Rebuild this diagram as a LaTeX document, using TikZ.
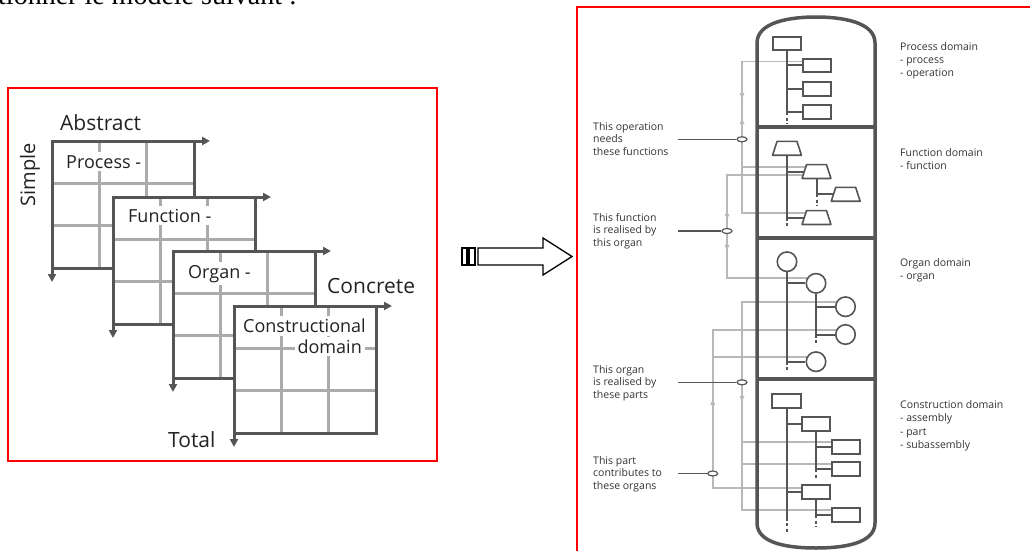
\documentclass[tikz,border=0pt]{standalone}
\usepackage{fontspec}
\setmainfont{Open Sans}
\newfontfamily\serifz{Liberation Serif}
\usetikzlibrary{arrows.meta,shapes.geometric,calc}
\pgfdeclarelayer{bg}
\pgfsetlayers{bg,main}
\definecolor{dk}{HTML}{555555}
\definecolor{gl}{HTML}{ABABAB}
\definecolor{cg}{HTML}{B8B8B8}
\definecolor{txt}{HTML}{222222}
\definecolor{ltxt}{HTML}{333333}
\newcommand\domgrid[2]{%
  \begin{scope}[shift={(#1,#2)}]
    \fill[white] (0,0) rectangle (142,127);
    \draw[gridl] (47.3,0) -- (47.3,127) (94.7,0) -- (94.7,127)
                 (0,42.3) -- (142,42.3) (0,84.7) -- (142,84.7);
    \draw[frame] (0,0) rectangle (142,127);
    \draw[frame,-{Triangle[length=8pt,width=8pt]}] (0,0) -- (158,0);
    \draw[frame,-{Triangle[length=8pt,width=8pt]}] (0,0) -- (0,141);
  \end{scope}}
% trapezium-shaped function node: name, position
\newcommand\funcnode[2]{%
  \node[trapbox] (#1) at (#2) {};
  \draw[trapline] ([xshift=4.5pt]#1.north west) -- ([xshift=-4.5pt]#1.north east)
     -- (#1.south east) -- (#1.south west) -- cycle;}
\begin{document}
\begin{tikzpicture}[x=1pt,y=-1pt,
  frame/.style={draw=dk,line width=3pt},
  gridl/.style={draw=gl,line width=3pt},
  redframe/.style={draw=red,line width=2pt},
  gridlabel/.style={fill=white,inner sep=3pt,text=txt,font=\fontsize{18}{20}\selectfont},
  axislabel/.style={inner sep=0pt,text=txt,font=\fontsize{21}{24}\selectfont},
  wall/.style={draw=dk,line width=3.5pt},
  box/.style={draw=dk,line width=1.6pt,fill=white,minimum width=28.5pt,minimum height=13.5pt,inner sep=0pt},
  trapbox/.style={rectangle,minimum width=28.5pt,minimum height=13.5pt,inner sep=0pt},
  trapline/.style={draw=dk,line width=1.6pt,fill=white,line join=round},
  organ/.style={circle,draw=dk,line width=1.6pt,fill=white,minimum size=19.5pt,inner sep=0pt},
  tree/.style={draw=dk,line width=2pt},
  tail/.style={draw=dk,line width=2pt,dash pattern=on 3pt off 2.5pt},
  conn/.style={draw=cg,line width=1.8pt},
  link/.style={ellipse,draw=dk,line width=1.2pt,fill=white,minimum width=10pt,minimum height=5pt,inner sep=0pt},
  lead/.style={draw=dk,line width=1.3pt},
  lbl/.style={anchor=west,align=left,inner sep=0pt,text=ltxt,font=\fontsize{10.5}{12.5}\selectfont},
  dom/.style={anchor=north west,align=left,inner sep=0pt,text=ltxt,font=\fontsize{10.5}{13.3}\selectfont},
  adown/.pic={\fill[cg] (-2.5,-4) -- (2.5,-4) -- (0,1.5) -- cycle;},
  aup/.pic={\fill[cg] (-2.5,4) -- (2.5,4) -- (0,-1.5) -- cycle;}
]
\useasboundingbox (0,0) rectangle (1030,551);

% heading fragment
\node[anchor=base west,inner sep=0pt,font=\serifz\fontsize{28}{30}\selectfont] (head) at (-2,5) {tionner le modèle suivant :};

% ---------------- left panel ----------------
\draw[redframe] (8,88) rectangle (437,461);
\domgrid{52}{141}
\node[gridlabel,anchor=base west] (gp) at (63,168) {Process -};
\domgrid{113}{197}
\node[gridlabel,anchor=base west] (gf) at (125,222) {Function -};
\domgrid{173}{251}
\node[gridlabel,anchor=base west] (go) at (185,278) {Organ -};
\domgrid{234}{306}
\node[gridlabel,anchor=base west] (gc1) at (240,332.5) {Constructional};
\node[gridlabel,anchor=base east] (gc2) at (365,353.3) {domain};

\node[axislabel,anchor=base west] (abs) at (60,130) {Abstract};
\node[axislabel,rotate=90,font=\fontsize{20}{22}\selectfont] (simp) at (30,175) {Simple};
\node[axislabel,anchor=base west] (conc) at (327,293) {Concrete};
\node[axislabel,anchor=base west] (tot) at (168,447.5) {Total};

% hollow arrow
\draw[black,line width=1.3pt,fill=white] (462,248) rectangle (467,265);
\draw[black,line width=1.3pt,fill=white] (469,248) rectangle (475,265);
\draw[black,line width=1.3pt,fill=white,line join=miter]
  (478,248) -- (543,248) -- (543,238) -- (572,256.5) -- (543,275) -- (543,265) -- (478,265) -- cycle;

% ---------------- right panel ----------------
\draw[redframe] (577,570) -- (577,7) -- (1045,7);

% capsule
\draw[wall] (757,523) -- (757,43) .. controls (757,22) and (790,17) .. (816,17)
  .. controls (842,17) and (875,22) .. (875,43) -- (875,523)
  .. controls (875,544) and (842,548) .. (816,548) .. controls (790,548) and (757,544) .. (757,523) -- cycle;
\draw[wall] (757,127) -- (875,127) (757,238) -- (875,238) (757,379) -- (875,379);

% process domain
\node[box] (P0) at (787,43.5) {};
\node[box] (P1) at (817,65.5) {};
\node[box] (P2) at (817,89) {};
\node[box] (P3) at (817,112) {};
\draw[tree] (P0.south) |- (P1.west) (P0.south) |- (P2.west) (P0.south) |- (P3.west);
\draw[tail] (P0.south |- P3.west) -- ++(0,12);

% function domain
\funcnode{F0}{787,148.3}
\funcnode{F1}{816.5,171.5}
\funcnode{F2}{845.7,194.3}
\funcnode{F3}{816.5,217.5}
\draw[tree] (F0.south) |- ([xshift=2.3pt]F1.west) (F0.south) |- ([xshift=2.3pt]F3.west);
\draw[tail] (F0.south |- F3.west) -- ++(0,11);
\draw[tree] (F1.south) |- ([xshift=2.3pt]F2.west);
\draw[tail] (F1.south |- F2.west) -- ++(0,12);

% organ domain
\node[organ] (O0) at (787,261.7) {};
\node[organ] (O1) at (816,283.3) {};
\node[organ] (O2) at (845.5,306.7) {};
\node[organ] (O3) at (845.5,334.5) {};
\node[organ] (O4) at (816,361.7) {};
\draw[tree] (O0.south) |- (O1.west) (O0.south) |- (O4.west);
\draw[tail] (O0.south |- O4.west) -- ++(0,10);
\draw[tree] (O1.south) |- (O2.west) (O1.south) |- (O3.west);
\draw[tail] (O1.south |- O3.west) -- ++(0,10);

% construction domain
\node[box] (C0) at (786.5,401) {};
\node[box] (C1) at (816,424) {};
\node[box] (C2) at (846,447) {};
\node[box] (C3) at (846,469) {};
\node[box] (C4) at (816,492) {};
\node[box] (C5) at (846,515) {};
\draw[tree] (C0.south) |- (C1.west) (C0.south) |- (C4.west) (C0.south) -- ++(0,109);
\draw[tail] ($(C0.south)+(0,109)$) -- ++(0,14);
\draw[tree] (C1.south) |- (C2.west) (C1.south) |- (C3.west);
\draw[tail] (C1.south |- C3.west) -- ++(0,11);
\draw[tree] (C4.south) |- (C5.west);
\draw[tail] (C4.south |- C5.west) -- ++(0,12);

% links (ellipses)
\node[link] (E1) at (742,139.3) {};
\node[link] (E2) at (727,231) {};
\node[link] (E3) at (742,382.3) {};
\node[link] (E4) at (712.7,473.5) {};

% gray relation connectors
\begin{pgfonlayer}{bg}
  \path ([yshift=4.8pt]F1.center) coordinate (f1u)
        ([yshift=-3.5pt]F1.center) coordinate (f1d)
        ([yshift=4.7pt]C2.center) coordinate (c2u)
        ([yshift=4.7pt]C3.center) coordinate (c3u)
        ([yshift=4.4pt]O4.center) coordinate (o4u);
  % bus 1
  \draw[conn] ([yshift=4pt]P1.center) -| (E1.center);
  \draw[conn] ([yshift=4.5pt]F3.center) -| (E1.center);
  \draw[conn] (f1u) -- (E1 |- f1u);
  % bus 2
  \draw[conn] (f1d) -| (E2.center);
  \draw[conn] ([yshift=5pt]O1.center) -| (E2.center);
  % bus 3
  \draw[conn] ([yshift=5pt]O2.center) -| (E3.center);
  \draw[conn] ([yshift=4.7pt]C5.center) -| (E3.center);
  \draw[conn] (c2u) -- (E3 |- c2u);
  \draw[conn] (c3u) -- (E3 |- c3u);
  % bus 4
  \draw[conn] ([yshift=4.5pt]O3.center) -| (E4.center);
  \draw[conn] ([yshift=3.7pt]C4.center) -| (E4.center);
  \draw[conn] (o4u) -- (E4 |- o4u);
\end{pgfonlayer}
\pic at (742,97) {adown};
\pic at (742,120) {aup};
\pic at (727,218) {adown};
\pic at (727,243) {aup};
\pic at (742,400) {adown};
\pic at (712.7,401) {aup};

% labels and lead lines
\coordinate (lx) at (678,0);
\node[lbl] (L1) at (593,138.8) {This operation\\needs\\these functions};
\node[lbl] (L2) at (593,230.8) {This function\\is realised by\\this organ};
\node[lbl] (L3) at (593,383) {This organ\\is realised by\\these parts};
\node[lbl] (L4) at (593,474) {This part\\contributes to\\these organs};
\draw[lead] (lx |- E1) -- (E1.west);
\draw[lead] (lx |- E2) -- (E2.west);
\draw[lead] (lx |- E3) -- (E3.west);
\draw[lead] (lx |- E4) -- (E4.west);

% domain texts
\node[dom] (D1) at (900,42) {Process domain\\- process\\- operation};
\node[dom] (D2) at (900,148.5) {Function domain\\- function};
\node[dom] (D3) at (900,258) {Organ domain\\- organ};
\node[dom] (D4) at (900,400.5) {Construction domain\\- assembly\\- part\\- subassembly};
\end{tikzpicture}
\end{document}
